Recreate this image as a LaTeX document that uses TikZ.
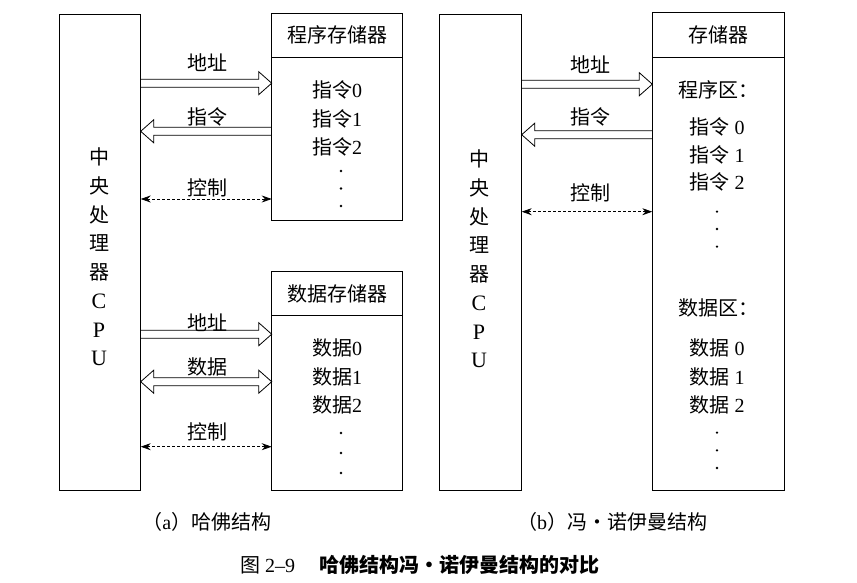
\documentclass[tikz,border=0pt]{standalone}
\usepackage{fontspec}
\setmainfont{Liberation Serif}
\newfontfamily\cjk{Noto Sans CJK SC}
\usetikzlibrary{calc,positioning,arrows.meta}
\tikzset{%
    Bbox/.style={draw, line width=0.8pt, inner sep=0pt, outer sep=0pt},
    Tword/.style={font=\cjk\fontsize{20}{24}\selectfont, inner sep=0pt},
    Tcpu/.style={font=\cjk\fontsize{20}{28.7}\selectfont, align=center, inner sep=0pt},
    Pdot/.style={shape=circle, fill=black, inner sep=0.9pt},
    Lcontrol/.style={line width=0.8pt, dash pattern=on 3pt off 2pt,
        {Stealth[length=10pt,width=7pt]}-{Stealth[length=10pt,width=7pt]}},
    Lhollowr/.style={line width=0.8pt, to path={let \p1=(\tikztostart), \p2=(\tikztotarget) in
        (\x1,\y1+4pt) -- (\x2-13pt,\y1+4pt) -- (\x2-13pt,\y1+11.5pt) -- (\x2,\y1)
        -- (\x2-13pt,\y1-11.5pt) -- (\x2-13pt,\y1-4pt) -- (\x1,\y1-4pt)}},
    Lhollowl/.style={line width=0.8pt, to path={let \p1=(\tikztostart), \p2=(\tikztotarget) in
        (\x2,\y1+4pt) -- (\x1+13pt,\y1+4pt) -- (\x1+13pt,\y1+11.5pt) -- (\x1,\y1)
        -- (\x1+13pt,\y1-11.5pt) -- (\x1+13pt,\y1-4pt) -- (\x2,\y1-4pt)}},
    Lhollowlr/.style={line width=0.8pt, to path={let \p1=(\tikztostart), \p2=(\tikztotarget) in
        (\x1,\y1) -- (\x1+13pt,\y1+11.5pt) -- (\x1+13pt,\y1+4pt) -- (\x2-13pt,\y1+4pt)
        -- (\x2-13pt,\y1+11.5pt) -- (\x2,\y1) -- (\x2-13pt,\y1-11.5pt) -- (\x2-13pt,\y1-4pt)
        -- (\x1+13pt,\y1-4pt) -- (\x1+13pt,\y1-11.5pt) -- cycle}}
}

\begin{document}
\begin{tikzpicture}[x=1pt, y=-1pt]
    \useasboundingbox (0,0) rectangle (857,583);

    % (a) Harvard
    \node[Bbox, minimum width=81.7pt, minimum height=476pt] (NcpuA) at (99.85,252.7) {};
    \node[Tcpu] (NcpuAtext) at (99,257)
        {中\\央\\处\\理\\器\\\rmfamily\fontsize{22}{28.7}\selectfont C\\\rmfamily\fontsize{22}{28.7}\selectfont P\\\rmfamily\fontsize{22}{28.7}\selectfont U};
    \node[Bbox, Tword, minimum width=131pt, minimum height=44pt] (NprogHead) at (337.2,35.3) {程序存储器};
    \node[Bbox, minimum width=131pt, minimum height=163.4pt, below=0pt of NprogHead] (NprogA) {};
    \node[Bbox, Tword, minimum width=131pt, minimum height=43.6pt] (NdataHead) at (337.2,293.5) {数据存储器};
    \node[Bbox, minimum width=131pt, minimum height=175.4pt, below=0pt of NdataHead] (NdataA) {};

    \foreach \i/\y in {0/90,1/118.5,2/147}
        \node[Tword] (NinsA\i) at (337,\y) {指令{\rmfamily\i}};
    \foreach \i/\y in {0/348,1/376.7,2/405}
        \node[Tword] (NdatA\i) at (337,\y) {数据{\rmfamily\i}};
    \foreach \y [count=\k] in {171,188.5,206}
        \node[Pdot] (NdotPA\k) at (341,\y) {};
    \foreach \y [count=\k] in {433,453,473}
        \node[Pdot] (NdotDA\k) at (341,\y) {};

    \draw[Lhollowr] (NcpuA.east|-0,83.2) to (NprogA.west|-0,83.2);
    \draw[Lhollowl] (NcpuA.east|-0,131.3) to (NprogA.west|-0,131.3);
    \draw[Lcontrol] (NcpuA.east|-0,199) -- (NprogA.west|-0,199);
    \draw[Lhollowr] (NcpuA.east|-0,334.2) to (NdataA.west|-0,334.2);
    \draw[Lhollowlr] (NcpuA.east|-0,381.7) to (NdataA.west|-0,381.7);
    \draw[Lcontrol] (NcpuA.east|-0,446.7) -- (NdataA.west|-0,446.7);

    \node[Tword] (NlAddrA) at (207,63) {地址};
    \node[Tword] (NlInsA) at (207,117) {指令};
    \node[Tword] (NlCtrlA) at (207,188) {控制};
    \node[Tword] (NlAddrDA) at (207,323) {地址};
    \node[Tword] (NlDatA) at (207,366.7) {数据};
    \node[Tword] (NlCtrlDA) at (207,431.7) {控制};

    % (b) von Neumann
    \node[Bbox, minimum width=82.7pt, minimum height=476.7pt] (NcpuB) at (480.35,252.35) {};
    \node[Tcpu] (NcpuBtext) at (479,259)
        {中\\央\\处\\理\\器\\\rmfamily\fontsize{22}{28.7}\selectfont C\\\rmfamily\fontsize{22}{28.7}\selectfont P\\\rmfamily\fontsize{22}{28.7}\selectfont U};
    \node[Bbox, Tword, minimum width=131.7pt, minimum height=44.6pt] (NmemHead) at (718.15,35) {存储器};
    \node[Bbox, minimum width=131.7pt, minimum height=433.4pt, below=0pt of NmemHead] (NmemB) {};

    \node[Tword] (NprogZone) at (718,90) {程序区：};
    \foreach \i/\y in {0/127,1/154.5,2/182}
        \node[Tword] (NinsB\i) at (717,\y) {指令{\rmfamily\ \i}};
    \foreach \y [count=\k] in {211.7,229,246.7}
        \node[Pdot] (NdotPB\k) at (717,\y) {};
    \node[Tword] (NdataZone) at (718,308.3) {数据区：};
    \foreach \i/\y in {0/348,1/376.7,2/405}
        \node[Tword] (NdatB\i) at (717,\y) {数据{\rmfamily\ \i}};
    \foreach \y [count=\k] in {432.7,450.3,468}
        \node[Pdot] (NdotDB\k) at (717,\y) {};

    \draw[Lhollowr] (NcpuB.east|-0,84.2) to (NmemB.west|-0,84.2);
    \draw[Lhollowl] (NcpuB.east|-0,134.7) to (NmemB.west|-0,134.7);
    \draw[Lcontrol] (NcpuB.east|-0,211.7) -- (NmemB.west|-0,211.7);

    \node[Tword] (NlAddrB) at (590,65) {地址};
    \node[Tword] (NlInsB) at (590,116.7) {指令};
    \node[Tword] (NlCtrlB) at (590,192.7) {控制};

    % captions
    \node[Tword] (NcapA) at (206.7,521.7) {（{\rmfamily a}）哈佛结构};
    \node[Tword] (NcapB) at (612,521.7) {（{\rmfamily b}）冯·诺伊曼结构};
    \node[Tword] (Ntitle) at (420,565) {图 {\rmfamily 2--9}\hspace{1.2em}{\bfseries 哈佛结构冯·诺伊曼结构的对比}};
\end{tikzpicture}
\end{document}
